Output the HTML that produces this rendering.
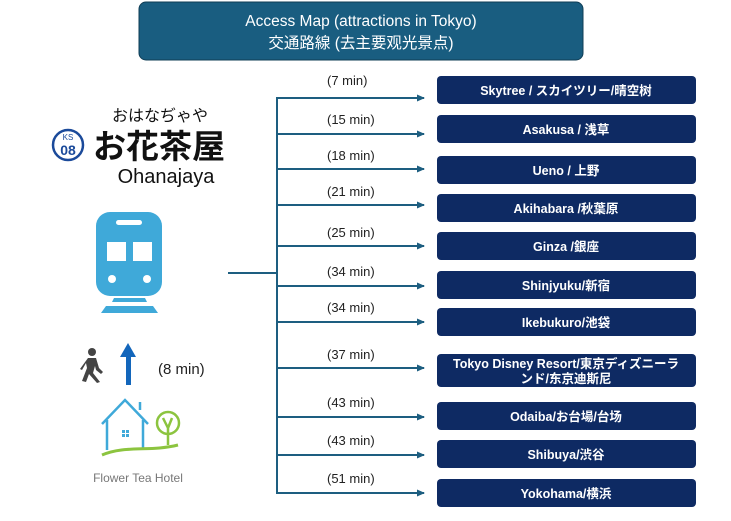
<!DOCTYPE html>
<html><head><meta charset="utf-8"><style>
body{margin:0;background:#fff;width:731px;height:516px;overflow:hidden}
svg text{font-family:"Liberation Sans","Noto Sans CJK JP",sans-serif}
</style></head><body>
<svg width="731" height="516" viewBox="0 0 731 516" xmlns="http://www.w3.org/2000/svg">
<defs><marker id="ah" markerWidth="8" markerHeight="8" refX="7" refY="4" orient="auto" markerUnits="userSpaceOnUse"><path d="M0,0.5 L8,4 L0,7.5 Z" fill="#1d5e80"/></marker></defs>
<rect x="139" y="2" width="444" height="58" rx="7" fill="#195d80" stroke="#0f3d55" stroke-width="1"/>
<text x="361" y="26" fill="#fff" font-size="15.5" text-anchor="middle">Access Map (attractions in Tokyo)</text>
<text x="361" y="48" fill="#fff" font-size="15.5" text-anchor="middle">交通路線 (去主要观光景点)</text>

<!-- logo -->
<circle cx="68" cy="145" r="15" fill="#fff" stroke="#1b4a9a" stroke-width="2.5"/>
<text x="68" y="140" font-size="8" fill="#1b4a9a" text-anchor="middle">KS</text>
<text x="68" y="155" font-size="14" fill="#1b4a9a" text-anchor="middle" font-weight="bold">08</text>
<text x="160" y="121" font-size="16" text-anchor="middle" fill="#111">おはなぢゃや</text>
<text x="159" y="158" font-size="33" text-anchor="middle" fill="#111" font-weight="bold">お花茶屋</text>
<text x="166" y="183" font-size="20" text-anchor="middle" fill="#111">Ohanajaya</text>

<!-- train -->
<rect x="96" y="212" width="66" height="84" rx="14" fill="#3fa9d9"/>
<rect x="116" y="220" width="26" height="5" rx="2.5" fill="#fff"/>
<rect x="107" y="242" width="19" height="19" fill="#fff"/>
<rect x="133" y="242" width="19" height="19" fill="#fff"/>
<circle cx="112" cy="279" r="4" fill="#fff"/>
<circle cx="147" cy="279" r="4" fill="#fff"/>
<path d="M114,298 H145 L147,302 H112 Z" fill="#3fa9d9"/>
<path d="M106,306 H153 L158,313 H101 Z" fill="#3fa9d9"/>
<line x1="228" y1="273" x2="277" y2="273" stroke="#1d5e80" stroke-width="2"/>

<!-- walk -->
<circle cx="92" cy="352" r="4" fill="#444"/>
<path d="M88,358 L96,358 L99,368 L103,372 L101,374 L96,370 L95,366 L93,373 L100,382 L97,383 L89,374 L86,382 L82,381 L87,368 L86,363 L82,370 L80,369 Z" fill="#444"/>
<path d="M128,343 L136,357 H131 V385 H126 V357 H120 Z" fill="#1366bb"/>
<text x="158" y="374" font-size="15" fill="#222">(8 min)</text>

<!-- house -->
<g fill="none" stroke="#3fa9d9" stroke-width="2.5">
<path d="M102,424 L125,400 L148,424"/>
<path d="M107,420 V450 M143,420 V450"/>
<line x1="140" y1="402" x2="140" y2="410"/>
</g>
<rect x="122" y="430" width="3" height="3" fill="#3fa9d9"/><rect x="126" y="430" width="3" height="3" fill="#3fa9d9"/>
<rect x="122" y="434" width="3" height="3" fill="#3fa9d9"/><rect x="126" y="434" width="3" height="3" fill="#3fa9d9"/>
<circle cx="168" cy="423" r="11" fill="none" stroke="#8cc43f" stroke-width="2.5"/>
<path d="M168,428 V445 M168,428 L163,418 M168,428 L172,418" stroke="#8cc43f" stroke-width="2.5" fill="none"/>
<path d="M102,455 C125,445 150,452 178,445" stroke="#8cc43f" stroke-width="3" fill="none"/>
<text x="138" y="482" font-size="12" fill="#777" text-anchor="middle">Flower Tea Hotel</text>

<!-- tree -->
<line x1="277" y1="97" x2="277" y2="494" stroke="#1d5e80" stroke-width="2"/>
<g stroke="#1d5e80" stroke-width="2" marker-end="url(#ah)">
<line x1="277" y1="98" x2="424" y2="98"/>
<line x1="277" y1="134" x2="424" y2="134"/>
<line x1="277" y1="169" x2="424" y2="169"/>
<line x1="277" y1="205" x2="424" y2="205"/>
<line x1="277" y1="246" x2="424" y2="246"/>
<line x1="277" y1="286" x2="424" y2="286"/>
<line x1="277" y1="322" x2="424" y2="322"/>
<line x1="277" y1="368" x2="424" y2="368"/>
<line x1="277" y1="417" x2="424" y2="417"/>
<line x1="277" y1="455" x2="424" y2="455"/>
<line x1="277" y1="493" x2="424" y2="493"/>
</g>
<g font-size="13" fill="#222">
<text x="327" y="85">(7 min)</text>
<text x="327" y="124">(15 min)</text>
<text x="327" y="160">(18 min)</text>
<text x="327" y="196">(21 min)</text>
<text x="327" y="237">(25 min)</text>
<text x="327" y="276">(34 min)</text>
<text x="327" y="312">(34 min)</text>
<text x="327" y="359">(37 min)</text>
<text x="327" y="407">(43 min)</text>
<text x="327" y="445">(43 min)</text>
<text x="327" y="483">(51 min)</text>
</g>
<g fill="#0e2a63">
<rect x="437" y="76" width="259" height="28" rx="4"/>
<rect x="437" y="115" width="259" height="28" rx="4"/>
<rect x="437" y="156" width="259" height="28" rx="4"/>
<rect x="437" y="194" width="259" height="28" rx="4"/>
<rect x="437" y="232" width="259" height="28" rx="4"/>
<rect x="437" y="271" width="259" height="28" rx="4"/>
<rect x="437" y="308" width="259" height="28" rx="4"/>
<rect x="437" y="354" width="259" height="33" rx="4"/>
<rect x="437" y="402" width="259" height="28" rx="4"/>
<rect x="437" y="440" width="259" height="28" rx="4"/>
<rect x="437" y="479" width="259" height="28" rx="4"/>
</g>
<g font-size="12.5" fill="#fff" font-weight="bold" text-anchor="middle">
<text x="566" y="95">Skytree / スカイツリー/晴空树</text>
<text x="566" y="134">Asakusa / 浅草</text>
<text x="566" y="175">Ueno / 上野</text>
<text x="566" y="213">Akihabara /秋葉原</text>
<text x="566" y="251">Ginza /銀座</text>
<text x="566" y="290">Shinjyuku/新宿</text>
<text x="566" y="327">Ikebukuro/池袋</text>
<text x="566" y="368">Tokyo Disney Resort/東京ディズニーラ</text>
<text x="566" y="383">ンド/东京迪斯尼</text>
<text x="566" y="421">Odaiba/お台場/台场</text>
<text x="566" y="459">Shibuya/渋谷</text>
<text x="566" y="498">Yokohama/横浜</text>
</g>
</svg>
</body></html>
